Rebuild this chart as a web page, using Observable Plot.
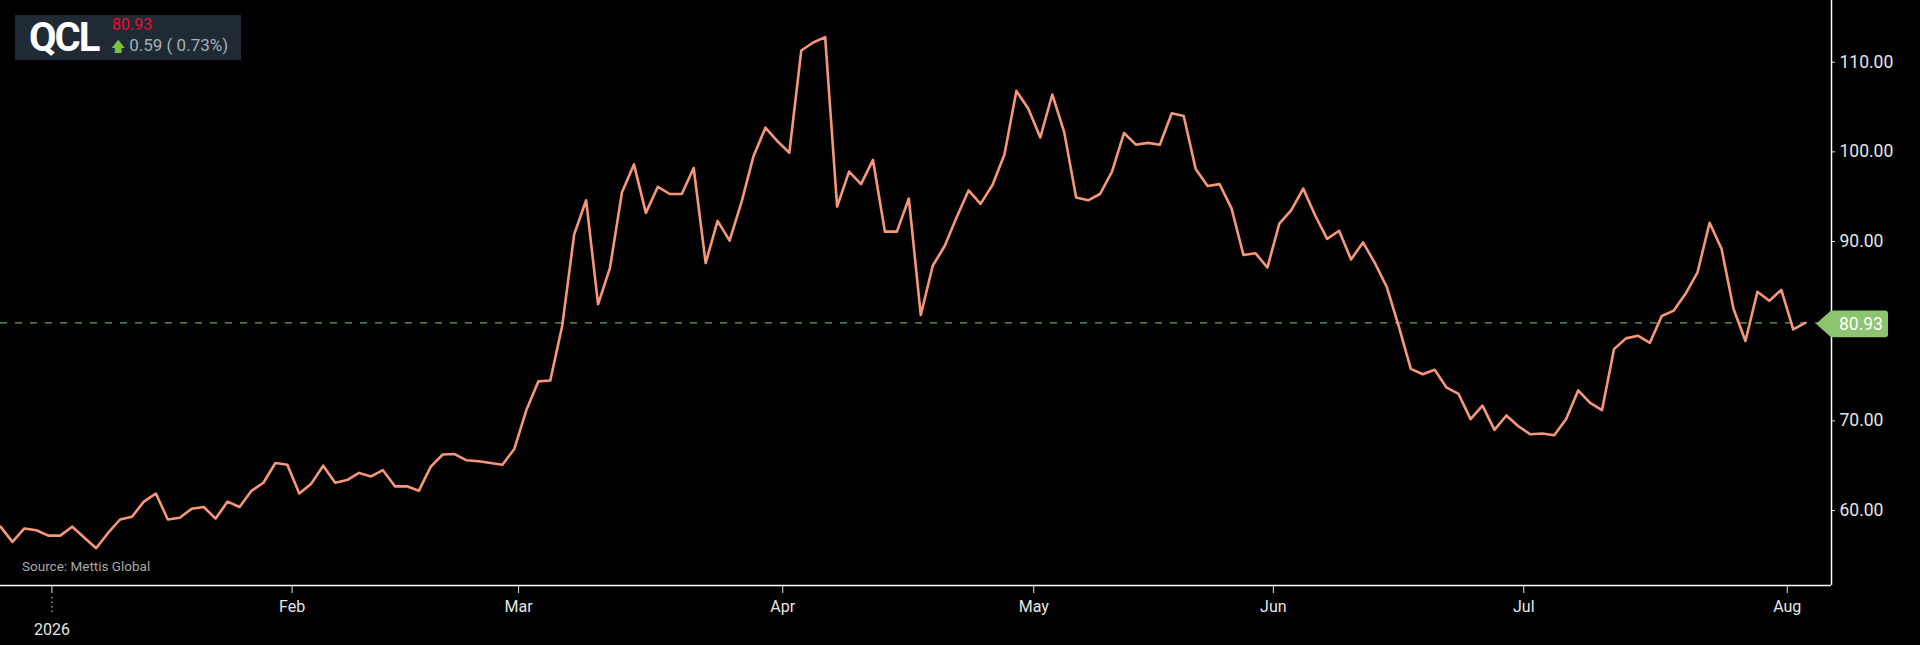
<!DOCTYPE html>
<html>
<head>
<meta charset="utf-8">
<script src="https://cdn.jsdelivr.net/npm/d3@7"></script>
<script src="https://cdn.jsdelivr.net/npm/@observablehq/plot@0.6"></script>
<style>
  html, body { margin: 0; padding: 0; background: #000; }
  #wrap { position: relative; width: 1920px; height: 645px; overflow: hidden; font-family: Roboto, "Noto Sans", sans-serif; }
  #badge { position: absolute; left: 15px; top: 15px; width: 226px; height: 45px; background: #1f2a35; }
  #sym { position: absolute; left: 14px; top: -2px; font-size: 40px; font-weight: 700; color: #fff; letter-spacing: -2px; line-height: 50px; }
  #last { position: absolute; left: 97px; top: 0px; font-size: 16px; color: #e8112d; line-height: 20px; }
  #chg { position: absolute; left: 96px; top: 19px; font-size: 17px; color: #a7aeb6; line-height: 22px; white-space: pre; }
  #chg .arr { color: #7bc242; font-size: 14px; }
  #src { position: absolute; left: 22px; top: 558px; font-size: 13.5px; color: #a9a9a9; }
</style>
</head>
<body>
<div id="wrap">
  <div id="chart"></div>
  <div id="badge">
    <div id="sym"></div>
    <div id="last"></div>
    <div id="chg"></div>
  </div>
  <div id="src"></div>
</div>
<script>
// ---- data ----
const symbol = "QCL";
const lastPrice = 80.93;
const change = 0.59;
const changePct = 0.73;
const source = "Source: Mettis Global";

const prices = [
  58.2,56.5,58.0,57.8,57.2,57.2,58.2,57.0,55.8,57.5,
  59.0,59.3,61.0,61.9,59.0,59.2,60.2,60.4,59.1,61.0,
  60.4,62.2,63.1,65.3,65.1,61.9,
  63.0,65.0,63.1,63.4,64.2,63.8,64.5,62.7,62.7,62.2,64.9,66.25,66.3,65.6,65.5,65.3,65.1,66.9,71.2,
  74.4,74.5,80.6,90.8,94.6,83.0,87.1,95.5,98.6,93.2,96.1,95.3,95.3,98.2,87.6,92.3,90.1,94.4,99.5,102.7,101.2,99.9,
  111.3,112.2,112.8,93.9,97.8,96.4,99.1,91.1,91.1,94.8,81.8,87.3,89.5,92.7,95.7,94.2,96.3,99.7,106.8,104.8,101.6,
  106.4,102.2,94.9,94.6,95.3,97.8,102.1,100.8,101.0,100.8,104.3,104.0,98.1,96.2,96.4,93.7,88.5,88.7,87.1,92.0,93.5,
  95.9,92.9,90.3,91.2,88.0,89.9,87.6,84.9,80.5,75.8,75.2,75.7,73.7,73.0,70.2,71.7,69.0,70.6,69.4,68.5,68.6,68.4,
  70.2,73.4,72.0,71.2,78.0,79.2,79.5,78.7,81.7,82.3,84.2,86.6,92.1,89.2,82.5,78.9,84.4,83.4,84.6,80.2,80.93
];
// month boundaries in trading-session index units
const monthTickPos = [4.3, 24.4, 43.35, 65.45, 86.45, 106.5, 127.45, 149.5];
const monthLabels = ["", "Feb", "Mar", "Apr", "May", "Jun", "Jul", "Aug"];
const yearLabel = "2026";
const yTicks = [60, 70, 90, 100, 110];
const yDomain = [51.64, 116.88];
const xDomain = [0, 153.2];

// ---- table ----
const rows = prices.map((p, i) => ({i, p}));
const labelOf = new Map(monthTickPos.map((t, k) => [t, monthLabels[k]]));

const axisColor = "#e6e6e6";
const chart = Plot.plot({
  width: 1920,
  height: 645,
  marginLeft: 0,
  marginRight: 89,
  marginTop: 0,
  marginBottom: 60,
  style: {background: "#000", color: axisColor, fontFamily: "Roboto, sans-serif", overflow: "visible"},
  x: {domain: xDomain, label: null},
  y: {domain: yDomain, label: null},
  marks: [
    Plot.ruleY([lastPrice], {stroke: "#6fa150", strokeWidth: 1.3, strokeDasharray: "7,8"}),
    Plot.lineY(rows, {x: "i", y: "p", stroke: "#f6977a", strokeWidth: 2.6, clip: true}),
    Plot.ruleY([yDomain[0]], {stroke: "#ffffff", strokeWidth: 1.5}),
    Plot.ruleX([xDomain[1]], {stroke: "#ffffff", strokeWidth: 1.5}),
    Plot.axisX({ticks: monthTickPos.slice(1), tickFormat: d => labelOf.get(d), tickSize: 8, tickPadding: 7,
      fontSize: 16, stroke: axisColor, fill: axisColor, label: null}),
    Plot.axisX({ticks: [monthTickPos[0]], tickFormat: () => yearLabel, tickSize: 27, tickPadding: 11,
      fontSize: 16, stroke: axisColor, fill: axisColor, strokeDasharray: "8,4,1.5,3,1.5,3,1.5,3", label: null}),
    Plot.axisY({anchor: "right", ticks: yTicks, tickFormat: d3.format(".2f"), tickSize: 3, tickPadding: 5,
      fontSize: 17.5, stroke: axisColor, fill: axisColor, label: null})
  ]
});
document.getElementById("chart").appendChild(chart);

// last-price tag, positioned through the plot's own scales
const ys = chart.scale("y");
const xs = chart.scale("x");
const ty = ys.apply(lastPrice) + 1.5;
const ax = xs.apply(xDomain[1]);
const svg = d3.select(chart);
const g = svg.append("g");
const tip = ax - 15, h = 13.3, right = ax + 57;
g.append("path")
  .attr("d", `M${tip},${ty} L${ax},${ty - h} H${right - 3} Q${right},${ty - h} ${right},${ty - h + 3} V${ty + h - 3} Q${right},${ty + h} ${right - 3},${ty + h} H${ax} Z`)
  .attr("fill", "#8cc46f");
g.append("text")
  .attr("x", ax + 8).attr("y", ty).attr("dy", "0.36em")
  .attr("text-anchor", "start")
  .attr("fill", "#fff").attr("font-size", 17.5).attr("font-family", "Roboto, sans-serif")
  .text(d3.format(".2f")(lastPrice));

// badge + source
document.getElementById("sym").textContent = symbol;
document.getElementById("last").textContent = d3.format(".2f")(lastPrice);
document.getElementById("chg").innerHTML = '<span class="arr">&#129093;</span> ' +
  d3.format(".2f")(change) + " ( " + d3.format(".2f")(changePct) + "%)";
document.getElementById("src").textContent = source;
</script>
</body>
</html>
